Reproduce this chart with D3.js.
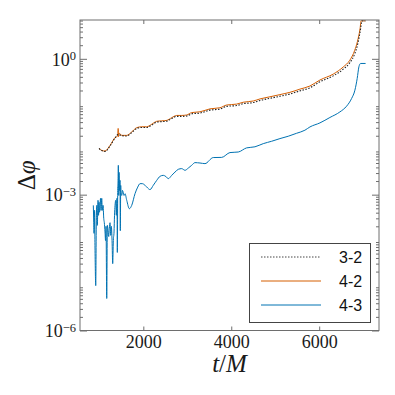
<!DOCTYPE html>
<html>
<head>
<meta charset="utf-8">
<script src="https://cdn.jsdelivr.net/npm/d3@7"></script>
<style>
  html, body { margin: 0; padding: 0; background: #fff; }
  svg { display: block; }
</style>
</head>
<body>
<svg id="chart" width="395" height="395"></svg>
<script>
// ---------- data ----------
const seriesNames = ["3-2", "4-2", "4-3"];
const xTicks = [2000, 4000, 6000];
const yTickExps = [0, -3, -6];

// 4-2 (orange)
const t42 = [993, 1054, 1129, 1245, 1357, 1420, 1428, 1436, 1445, 1509, 1623, 1736, 1850, 1964, 2077, 2191, 2304, 2418, 2532, 2645, 2759, 2873, 2986, 3100, 3289, 3516, 3743, 3895, 4123, 4273, 4500, 4652, 4880, 5107, 5334, 5561, 5789, 6016, 6319, 6546, 6696, 6809, 6869, 6930, 6953, 7050];
const v42 = [1.05e-2, 9.5e-3, 9.2e-3, 1.23e-2, 1.82e-2, 2.0e-2, 2.9e-2, 1.9e-2, 2.3e-2, 2.04e-2, 2.04e-2, 2.43e-2, 3.02e-2, 3.16e-2, 3.16e-2, 3.59e-2, 4.17e-2, 4.27e-2, 4.37e-2, 5.01e-2, 5.62e-2, 5.62e-2, 5.75e-2, 6.5e-2, 6.76e-2, 7.85e-2, 8.3e-2, 9.55e-2, 0.100, 0.110, 0.117, 0.130, 0.145, 0.162, 0.182, 0.214, 0.251, 0.34, 0.46, 0.66, 0.93, 1.55, 2.4, 4.7, 6.9, 6.9];

// 3-2 (black dotted)
const t32 = [993, 1054, 1129, 1245, 1357, 1432, 1509, 1623, 1736, 1850, 1964, 2077, 2191, 2304, 2418, 2532, 2645, 2759, 2873, 2986, 3100, 3289, 3516, 3743, 3895, 4123, 4273, 4500, 4652, 4880, 5107, 5334, 5561, 5789, 6016, 6319, 6546, 6696, 6809, 6869, 6930, 6975, 7050];
const v32 = [1.05e-2, 9.4e-3, 9.0e-3, 1.2e-2, 1.78e-2, 2.15e-2, 2.0e-2, 1.98e-2, 2.35e-2, 2.9e-2, 3.05e-2, 3.05e-2, 3.45e-2, 4.0e-2, 4.1e-2, 4.2e-2, 4.8e-2, 5.35e-2, 5.35e-2, 5.45e-2, 6.1e-2, 6.35e-2, 7.35e-2, 7.75e-2, 8.9e-2, 9.3e-2, 0.102, 0.108, 0.12, 0.134, 0.149, 0.167, 0.196, 0.229, 0.31, 0.42, 0.59, 0.82, 1.3, 2.0, 3.9, 6.9, 6.9];

// 4-3 (blue)
const t43 = [863, 873, 879, 891, 902, 918, 932, 943, 954, 970, 982, 993, 1004, 1016, 1027, 1039, 1054, 1068, 1084, 1100, 1113, 1129, 1141, 1152, 1168, 1182, 1198, 1213, 1227, 1243, 1259, 1273, 1289, 1304, 1318, 1334, 1345, 1357, 1373, 1386, 1402, 1409, 1418, 1425, 1432, 1441, 1448, 1459, 1470, 1477, 1486, 1493, 1509, 1527, 1561,
  1584, 1623, 1682, 1736, 1811, 1873, 1925, 1977, 2039, 2100, 2152, 2227, 2305, 2380, 2455, 2516, 2568, 2646, 2721, 2796, 2873, 2948, 3023, 3100, 3175, 3289, 3402, 3591, 3782, 3971, 4159, 4350, 4539, 4728, 4918, 5107, 5296, 5487, 5675, 5789, 6016, 6243, 6470, 6623, 6737, 6812, 6864, 6903, 6941, 7055];
const v43 = [5.8e-4, 2.4e-4, 1.4e-4, 4.5e-4, 5.9e-5, 9.8e-6, 3.5e-4, 5.8e-4, 2.1e-4, 7.5e-4, 3.5e-4, 6.8e-4, 4.1e-4, 5.8e-4, 8.3e-4, 4.5e-4, 8.3e-4, 4.5e-4, 5.8e-4, 3.0e-4, 2.4e-4, 1.5e-4, 9.7e-5, 2.0e-4, 5.1e-6, 2.1e-4, 1.6e-4, 1.19e-4, 1.8e-4, 2.4e-4, 1.26e-4, 2.0e-4, 9.7e-5, 3.0e-5, 9.7e-5, 1.5e-4, 3.5e-4, 5.8e-4, 7.5e-4, 3.5e-4, 8.3e-4, 5.3e-5, 1.24e-3, 2.07e-3, 4.45e-3, 9.6e-4, 3.11e-3, 1.24e-3, 2.07e-3, 1.6e-4, 1.6e-3, 1.12e-3, 9.6e-4, 1.24e-3, 9.6e-4,
  1.05e-3, 7.5e-4, 4.9e-4, 5.8e-4, 1.05e-3, 1.47e-3, 1.75e-3, 1.75e-3, 1.61e-3, 1.40e-3, 1.29e-3, 1.61e-3, 2.07e-3, 2.54e-3, 2.67e-3, 2.50e-3, 2.26e-3, 2.67e-3, 3.16e-3, 3.63e-3, 3.76e-3, 3.45e-3, 3.87e-3, 4.45e-3, 5.1e-3, 5.0e-3, 4.85e-3, 6.6e-3, 6.65e-3, 8.5e-3, 8.75e-3, 1.08e-2, 1.14e-2, 1.34e-2, 1.51e-2, 1.73e-2, 1.95e-2, 2.27e-2, 2.65e-2, 3.13e-2, 3.84e-2, 5.06e-2, 6.71e-2, 9.0e-2, 0.133, 0.203, 0.368, 0.665, 0.79, 0.79];

// ---------- layout ----------
const svg = d3.select("#chart");
const L = 80, R = 379, T = 20, B = 330.5;
const frameColor = "#6e6e6e";
const serif = "'Liberation Serif', 'DejaVu Serif', serif";

const x = d3.scaleLinear().domain([560, 7360]).range([L, R]);
const y = d3.scaleLog().domain([1e-6, 7.2]).range([B, T]);

// clip
svg.append("defs").append("clipPath").attr("id", "clip")
  .append("rect").attr("x", L).attr("y", T).attr("width", R - L).attr("height", B - T);

// minor tick values
const minor = [];
for (let e = -6; e <= 0; e++) for (let m = 2; m <= 9; m++) { const v = m * Math.pow(10, e); if (v <= 7.2) minor.push(v); }
const major = yTickExps.map(e => Math.pow(10, e));

function styleAxis(g) {
  g.select(".domain").remove();
  g.attr("font-family", serif);
  g.selectAll(".tick line").attr("stroke", frameColor).attr("stroke-width", 1);
}

// left axis
const gL = svg.append("g").attr("transform", `translate(${L},0)`);
gL.append("g").call(d3.axisLeft(y).tickValues(minor).tickSize(-3).tickFormat("")).call(styleAxis);
const gLmaj = gL.append("g").call(d3.axisLeft(y).tickValues(major).tickSize(-7).tickPadding(4).tickFormat(d => d)).call(styleAxis);
gLmaj.attr("font-size", 18);
gLmaj.selectAll(".tick text").each(function(d) {
  const e = Math.round(Math.log10(d));
  const t = d3.select(this);
  t.text(null).style("font-family", serif).attr("font-size", 18).attr("fill", "#1a1a1a").attr("dy", "0.35em");
  t.append("tspan").text("10");
  t.append("tspan").attr("dy", "-0.45em").attr("font-size", 12.5).text(e < 0 ? "\u2212" + Math.abs(e) : String(e));
});

// right axis
const gR = svg.append("g").attr("transform", `translate(${R},0)`);
gR.append("g").call(d3.axisRight(y).tickValues(minor).tickSize(-3).tickFormat("")).call(styleAxis);
gR.append("g").call(d3.axisRight(y).tickValues(major).tickSize(-7).tickFormat("")).call(styleAxis);

// bottom axis
const gB = svg.append("g").attr("transform", `translate(0,${B})`)
  .call(d3.axisBottom(x).tickValues(xTicks).tickSize(-4).tickPadding(5).tickFormat(d3.format("d")))
  .call(styleAxis);
gB.attr("font-size", 18);
gB.selectAll(".tick text").style("font-family", serif).attr("font-size", 18).attr("fill", "#1a1a1a");

// top axis
svg.append("g").attr("transform", `translate(0,${T})`)
  .call(d3.axisTop(x).tickValues(xTicks).tickSize(-4).tickFormat(""))
  .call(styleAxis);

// lines
const lineGen = d3.line().x(d => x(d[0])).y(d => y(d[1])).curve(d3.curveMonotoneX);
const plot = svg.append("g").attr("clip-path", "url(#clip)");

const d43 = t43.map((t, i) => [t, v43[i]]);
const d42 = t42.map((t, i) => [t, v42[i]]);
const d32 = t32.map((t, i) => [t, v32[i]]);

const colors = { "3-2": "#222", "4-2": "#D55E00", "4-3": "#0072B2" };

plot.append("path").datum(d43).attr("d", lineGen).attr("fill", "none")
  .attr("stroke", colors["4-3"]).attr("stroke-width", 1);
plot.append("path").datum(d42).attr("d", lineGen).attr("fill", "none")
  .attr("stroke", colors["4-2"]).attr("stroke-width", 1);
plot.append("path").datum(d32).attr("d", lineGen).attr("fill", "none")
  .attr("stroke", colors["3-2"]).attr("stroke-width", 1.1).attr("stroke-dasharray", "1.5,1.5");

// frame
svg.append("rect").attr("x", L).attr("y", T).attr("width", R - L).attr("height", B - T)
  .attr("fill", "none").attr("stroke", frameColor).attr("stroke-width", 1);

// axis labels
svg.append("text").attr("x", (L + R) / 2).attr("y", 372).attr("text-anchor", "middle")
  .attr("font-family", serif).attr("font-size", 25).attr("fill", "#1a1a1a")
  .call(t => {
    t.append("tspan").attr("font-style", "italic").text("t");
    t.append("tspan").text("/");
    t.append("tspan").attr("font-style", "italic").text("M");
  });

svg.append("text").attr("transform", `translate(35,${(T + B) / 2}) rotate(-90)`).attr("text-anchor", "middle")
  .attr("font-family", serif).attr("font-size", 25).attr("fill", "#1a1a1a")
  .call(t => {
    t.append("tspan").text("\u0394");
    t.append("tspan").attr("font-style", "italic").text("\u03C6");
  });

// legend
const lg = svg.append("g");
lg.append("rect").attr("x", 249.5).attr("y", 243.5).attr("width", 121).attr("height", 79)
  .attr("fill", "#fff").attr("stroke", "#444").attr("stroke-width", 1);
const rowY = [257, 281, 305];
seriesNames.forEach((name, i) => {
  const ln = lg.append("line").attr("x1", 261).attr("x2", 321).attr("y1", rowY[i]).attr("y2", rowY[i])
    .attr("stroke", colors[name]).attr("stroke-width", 1);
  if (name === "3-2") ln.attr("stroke-dasharray", "1.5,1.5").attr("stroke", "#444");
  lg.append("text").attr("x", 339).attr("y", rowY[i]).attr("dy", "0.36em")
    .attr("font-family", "'Liberation Sans', Arial, sans-serif").attr("font-size", 16).attr("fill", "#111")
    .text(name);
});
</script>
</body>
</html>
